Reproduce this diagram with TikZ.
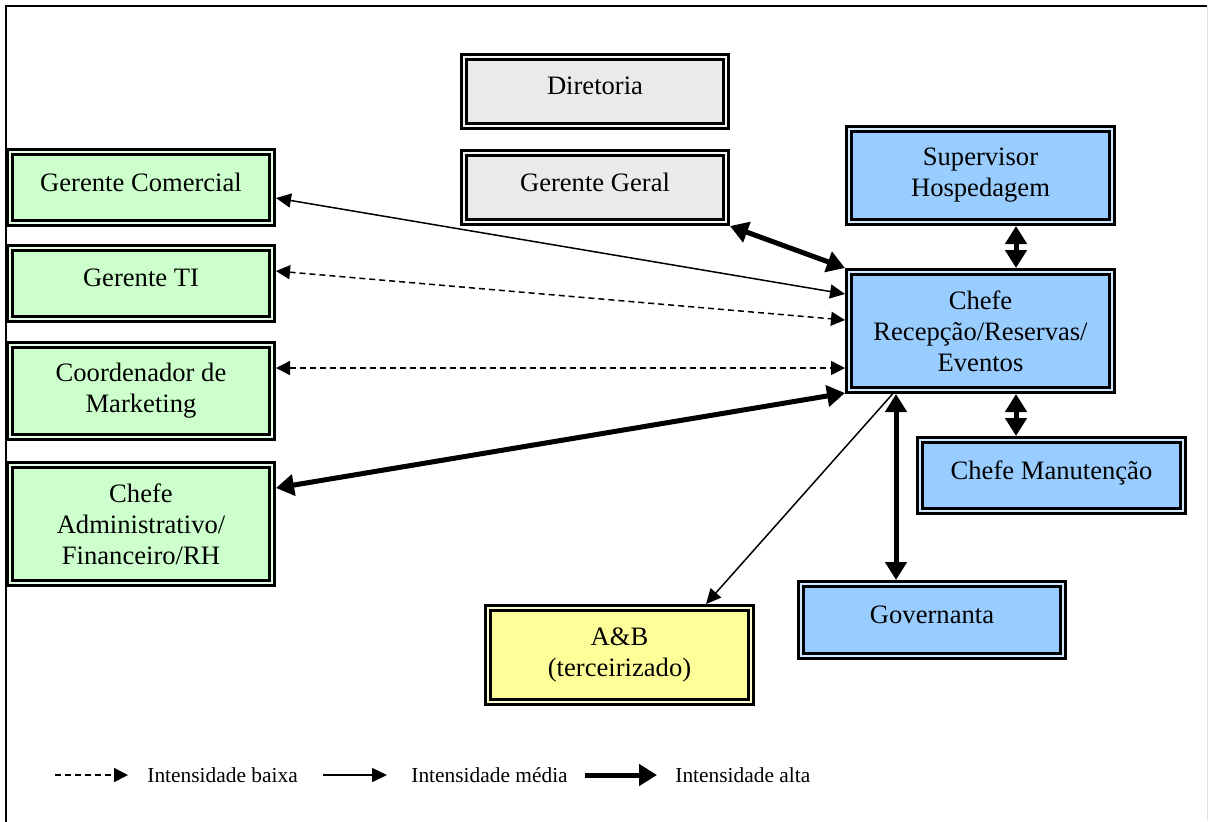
\documentclass[tikz,border=0pt]{standalone}
\usepackage{fontspec}
\setmainfont{Liberation Serif}
\usetikzlibrary{arrows.meta}
\definecolor{boxgreen}{HTML}{CCFFCC}
\definecolor{boxgray}{HTML}{EAEAEA}
\definecolor{boxblue}{HTML}{99CCFF}
\definecolor{boxyellow}{HTML}{FFFF99}
\tikzset{orgbox/.style={
        draw=black, line width=1.5pt,
        double=#1!45!white, double distance=1pt,
        fill=#1, align=center, inner sep=2pt, outer sep=2pt,
        minimum width=131pt,
        font=\fontsize{13.3}{15.5}\selectfont
    },
    oneline/.style={text depth=5.5pt},
    lowarrow/.style={line width=0.75pt, dash pattern=on 3pt off 2pt,
        >={Triangle[length=7pt,width=7pt]}},
    midarrow/.style={line width=0.75pt,
        >={Triangle[length=7.5pt,width=7pt]}},
    higharrow/.style={line width=2.5pt,
        >={Triangle[length=9pt,width=10.5pt]}},
    legendtext/.style={anchor=west, inner sep=0pt,
        font=\fontsize{10.7}{12}\selectfont}
}

\begin{document}
\begin{tikzpicture}[x=0.5pt,y=-0.5pt]
           \useasboundingbox (0,0) rectangle (1208,821);
           \draw[line width=1pt] (6,830) -- (6,6) -- (1207,6);
           \draw[gray!25] (1207,6) -- (1207,821);
           % top
           \node[orgbox=boxgray, oneline, minimum height=34.5pt] (diretoria) at (595,91.5) {Diretoria};
           \node[orgbox=boxgray, oneline, minimum height=34.5pt] (geral) at (595,187.5) {Gerente Geral};
           % left column
           \node[orgbox=boxgreen, oneline, minimum height=35.5pt] (comercial) at (141,187.5) {Gerente Comercial};
           \node[orgbox=boxgreen, oneline, minimum height=35.5pt] (ti) at (141,283.5) {Gerente TI};
           \node[orgbox=boxgreen, minimum height=46pt] (marketing) at (141,391) {Coordenador de\\Marketing};
           \node[orgbox=boxgreen, minimum height=59pt] (adm) at (141,524) {Chefe\\Administrativo/\\Financeiro/RH};
           % right column
           \node[orgbox=boxblue, minimum width=131.5pt, minimum height=46.5pt] (supervisor) at (980.5,175.5) {Supervisor\\Hospedagem};
           \node[orgbox=boxblue, minimum width=131.5pt, minimum height=59pt] (recepcao) at (980.5,331) {Chefe\\Recepção/Reservas/\\Eventos};
           \node[orgbox=boxblue, oneline, minimum width=131.5pt, minimum height=35.5pt] (manutencao) at (1051.5,475.5) {Chefe Manutenção};
           \node[orgbox=boxblue, oneline, minimum width=131pt, minimum height=36pt] (governanta) at (932,620) {Governanta};
           \node[orgbox=boxyellow, minimum width=131.5pt, minimum height=47pt] (ab) at (619.5,655) {A\&B\\(terceirizado)};
           % links
           \draw[midarrow,<->] ([yshift=-5.25pt]comercial.east) -- ([yshift=18.5pt]recepcao.west);
           \draw[lowarrow,<->] ([yshift=6.25pt]ti.east) -- ([yshift=5.5pt]recepcao.west);
           \draw[lowarrow,<->] ([yshift=11.5pt]marketing.east) -- ([yshift=-18.5pt]recepcao.west);
           \draw[higharrow,<->] ([yshift=18pt]adm.east) -- ([yshift=0.5pt]recepcao.south west);
           \draw[higharrow,<->] (geral.south east) -- (recepcao.north west);
           \draw[higharrow,<->] ([xshift=17.75pt]supervisor.south) -- ([xshift=17.75pt]recepcao.north);
           \draw[higharrow,<->] ([xshift=17.75pt]recepcao.south) -- ([xshift=-17.75pt]manutencao.north);
           \draw[higharrow,<->] ([xshift=-42.25pt]recepcao.south) -- ([xshift=-18pt]governanta.north);
           \draw[midarrow,->] ([xshift=-44pt]recepcao.south) -- ([xshift=43.25pt]ab.north);
           % legend
           \node[legendtext] (lowtxt) at (147,775) {Intensidade baixa};
           \node[legendtext] (midtxt) at (411,775) {Intensidade média};
           \node[legendtext] (hightxt) at (675,775) {Intensidade alta};
           \coordinate (lowstart) at (55,775);
           \coordinate (midstart) at (323,775);
           \coordinate (highstart) at (585,775);
           \draw[lowarrow,->,shorten >=9.5pt] (lowstart) -- (lowtxt.west);
           \draw[midarrow,->,shorten >=12pt] (midstart) -- (midtxt.west);
           \draw[higharrow,->,shorten >=9pt] (highstart) -- (hightxt.west);
         \end{tikzpicture}
\end{document}
